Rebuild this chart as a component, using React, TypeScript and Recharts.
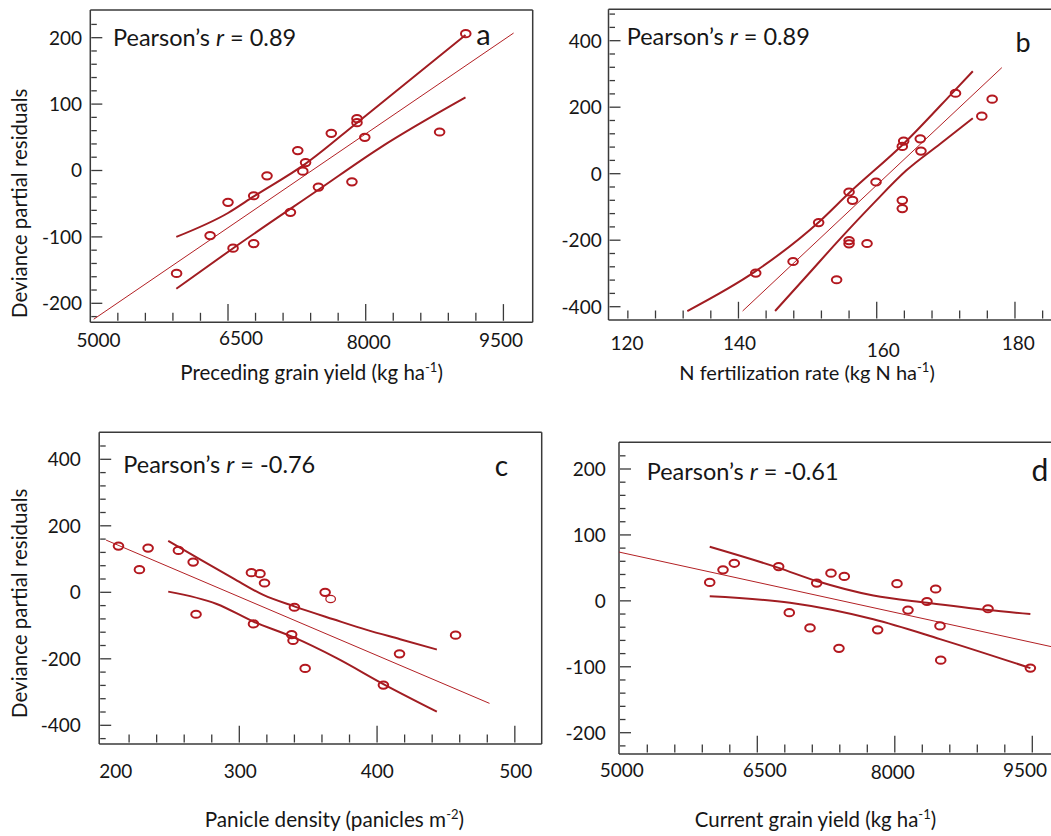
import React from 'react';
import { ComposedChart, Scatter, Line, XAxis, YAxis, ReferenceLine } from 'recharts';

// ---- panel a: preceding grain yield ----
const aPoints = [
  [5940, -155], [6305, -98], [6500, -48], [6555, -117], [6780, -38], [6780, -110],
  [6925, -8], [7180, -63], [7260, 30], [7345, 12], [7315, -1], [7485, -25],
  [7625, 56], [7850, -17], [7905, 78], [7905, 72], [7990, 50], [8805, 58], [9090, 206],
];
const aFit = [[5037, -224], [9611, 207]];
const aUpper = [[5937, -100], [6500, -64], [6781, -39], [7343, 10], [7906, 72], [9087, 204]];
const aLower = [[5937, -178], [6556, -117], [7485, -29], [8142, 33], [9087, 110]];
const aXLabels = [5000, 6500, 8000, 9500];
const aXMajor = [6500, 8000, 9500];
const aXMinor = [5300, 5600, 5900, 6200, 6800, 7100, 7400, 7700, 8300, 8600, 8900, 9200];
const aYMajor = [-200, -100, 0, 100, 200];
const aYMinor = [-220, -180, -160, -140, -120, -80, -60, -40, -20, 20, 40, 60, 80, 120, 140, 160, 180, 220];

// ---- panel b: N fertilization rate ----
const bPoints = [
  [142.5, -299], [147.9, -264], [151.6, -147], [154.2, -319], [156.0, -55], [156.5, -80],
  [156.0, -201], [156.0, -211], [158.6, -210], [159.9, -25], [163.7, 82], [163.9, 98],
  [163.7, -80], [163.7, -105], [166.3, 105], [166.4, 68], [171.4, 242], [175.2, 173], [176.7, 224],
];
const bFit = [[140.6, -413], [178.1, 319]];
const bUpper = [[132.6, -413], [142.5, -293], [151.6, -146], [156.0, -58], [163.9, 90], [171.4, 253], [173.9, 308]];
const bLower = [[145.3, -413], [149.9, -307], [154.7, -196], [159.5, -90], [164.3, 10], [169.2, 90], [173.9, 167]];
const bXLabels = [120, 140, 160, 180];
const bXMajor = [140, 160, 180];
const bXMinor = [124, 128, 132, 136, 144, 148, 152, 156, 164, 168, 172, 176, 184];
const bYMajor = [-400, -200, 0, 200, 400];
const bYMinor = [-360, -320, -280, -240, -160, -120, -80, -40, 40, 80, 120, 160, 240, 280, 320, 360, 440, 480];

// ---- panel c: panicle density ----
const cPoints = [
  [212.3, 139], [227.5, 68], [233.8, 133], [255.8, 126], [266.5, 91], [268.6, -66],
  [308.8, 59], [315, 56], [318.3, 28], [310.3, -95], [340, -45], [338, -127],
  [339, -145], [347.8, -229], [362.3, 0], [404.6, -279], [416.3, -185], [457, -129],
];
const cThinPoints = [[366.3, -20]];
const cFit = [[203.3, 157], [481.6, -334]];
const cUpper = [[248.4, 155], [271.5, 99], [295.6, 42], [317.4, -8], [340.4, -43], [368.3, -81], [392.5, -113], [416.7, -141], [443.4, -172]];
const cLower = [[248.4, 2], [283.6, -35], [310.2, -88], [339.2, -135], [370.7, -198], [404.6, -276], [443.4, -359]];
const cXLabels = [200, 300, 400, 500];
const cXMajor = [300, 400, 500];
const cXMinor = [220, 240, 260, 280, 320, 340, 360, 380, 420, 440, 460, 480];
const cYMajor = [-400, -200, 0, 200, 400];
const cYMinor = [-440, -360, -320, -280, -240, -160, -120, -80, -40, 40, 80, 120, 160, 240, 280, 320, 360, 440];

// ---- panel d: current grain yield ----
const dPoints = [
  [5981, 28], [6126, 47], [6249, 57], [6733, 52], [6849, -18], [7075, -41],
  [7148, 27], [7304, 42], [7391, -72], [7449, 37], [7813, -44], [8024, 26],
  [8144, -14], [8351, -1], [8446, 18], [8493, -38], [8501, -90], [9017, -12], [9479, -102],
];
const dFit = [[4992, 74], [9725, -70]];
const dUpper = [[5981, 82], [6733, 50], [7148, 30], [7766, 8], [8351, -3], [9017, -14], [9479, -20]];
const dLower = [[5981, 7], [6857, -3], [7766, -28], [8493, -58], [9479, -102]];
const dXLabels = [5000, 6500, 8000, 9500];
const dXMajor = [6500, 8000, 9500];
const dXMinor = [5300, 5600, 5900, 6200, 6800, 7100, 7400, 7700, 8300, 8600, 8900, 9200];
const dYMajor = [-200, -100, 0, 100, 200];
const dYMinor = [-220, -180, -160, -140, -120, -80, -60, -40, -20, 20, 40, 60, 80, 120, 140, 160, 180, 220];

const FONT = "Lato, 'Open Sans', sans-serif";
const TEXT = '#161616';
const AXIS = '#3a3a3a';
const DOT = '#b3181f';
const CI = '#a11d22';
const FIT = '#b22024';
const W = 1060;
const H = 836;
const AX = 0.01; // axes get a hair of size so they are still drawn

const toXY = (rows: number[][]) => rows.map(([x, y]) => ({ x, y }));

const ring = (sw: number) => (p: any) => (
  <ellipse cx={p.cx} cy={p.cy} rx={4.8} ry={3.6} fill="none" stroke={DOT} strokeWidth={sw} />
);

// plot frame of each panel in page pixels: L, T, R, B
const panels = [
  {
    id: 'a', frame: [90.3, 10, 532.7, 322.3], xDomain: [5000, 9819], yDomain: [-228.6, 241.7],
    pts: aPoints, thin: [], fit: aFit, upper: aUpper, lower: aLower,
    xLabels: aXLabels, xMajor: aXMajor, xMinor: aXMinor, yMajor: aYMajor, yMinor: aYMinor,
    xShift: [[8.2, 24.4], [13, 22.7], [3.1, 27], [-2.4, 24.4]], yGap: 8.3,
  },
  {
    id: 'b', frame: [608.5, 9.3, 1053, 320], xDomain: [121.2, 185.5], yDomain: [-440, 494.4],
    pts: bPoints, thin: [], fit: bFit, upper: bUpper, lower: bLower,
    xLabels: bXLabels, xMajor: bXMajor, xMinor: bXMinor, yMajor: bYMajor, yMinor: bYMinor,
    xShift: [[26.8, 30], [1, 30], [6.6, 36.7], [3.3, 30]], yGap: 6.8,
  },
  {
    id: 'c', frame: [99.2, 432.3, 541.7, 744], xDomain: [198.3, 519.5], yDomain: [-456.2, 481.2],
    pts: cPoints, thin: cThinPoints, fit: cFit, upper: cUpper, lower: cLower,
    xLabels: cXLabels, xMajor: cXMajor, xMinor: cXMinor, yMajor: cYMajor, yMinor: cYMinor,
    xShift: [[14.3, 34.3], [0.9, 34.3], [0.1, 34.3], [0.9, 34.3]], yGap: 18.3,
  },
  {
    id: 'd', frame: [619, 442.3, 1053, 754], xDomain: [4991.3, 9725.8], yDomain: [-232.3, 240.5],
    pts: dPoints, thin: [], fit: dFit, upper: dUpper, lower: dLower,
    xLabels: dXLabels, xMajor: dXMajor, xMinor: dXMinor, yMajor: dYMajor, yMinor: dYMinor,
    xShift: [[1.9, 22.7], [7.4, 22.7], [-2, 25.3], [-7.3, 23]], yGap: 13.3,
  },
];

const Panel = ({ cfg }: { cfg: any }) => {
  const [L, T, R, B] = cfg.frame;
  const [x0, x1] = cfg.xDomain;
  const [y0, y1] = cfg.yDomain;
  const margin = { left: L - AX, top: T, right: W - R, bottom: H - B - AX };
  // data units per pixel, used to give the inward tick marks their pixel length
  const ux = (x1 - x0) / (R - L);
  const uy = (y1 - y0) / (B - T);

  const xLabel = (p: any) => {
    const v = p.payload.value;
    const i = cfg.xLabels.indexOf(v);
    if (i < 0) return <g />;
    return (
      <text x={Number(p.x) + cfg.xShift[i][0]} y={B + cfg.xShift[i][1]} textAnchor="middle" fontSize={19} fontFamily={FONT} fill={TEXT}>
        {v}
      </text>
    );
  };
  const yLabel = (p: any) => (
    <text x={L - cfg.yGap} y={Number(p.y)} dy="0.36em" textAnchor="end" fontSize={19} fontFamily={FONT} fill={TEXT}>
      {p.payload.value}
    </text>
  );
  const ref = { xAxisId: 'M', yAxisId: 'M', stroke: AXIS, ifOverflow: 'visible' as const };
  const xTick = (v: number, len: number) => (
    <ReferenceLine key={`x${v}`} {...ref} strokeWidth={1.3} segment={[{ x: v, y: y0 + 1.5 * uy }, { x: v, y: y0 + (1.5 + len) * uy }]} />
  );
  const yTick = (v: number, len: number) => (
    <ReferenceLine key={`y${v}`} {...ref} strokeWidth={1.3} segment={[{ x: x0 + 1 * ux, y: v }, { x: x0 + (1 + len) * ux, y: v }]} />
  );

  return (
    <div style={{ position: 'absolute', left: 0, top: 0 }}>
      <ComposedChart width={W} height={H} margin={margin}>
        <XAxis
          xAxisId="M" type="number" dataKey="x" domain={[x0, x1]} allowDataOverflow ticks={cfg.xLabels} interval={0}
          height={AX} axisLine={false} tickLine={false} tickSize={0} tickMargin={0} tick={xLabel}
        />
        <YAxis
          yAxisId="M" type="number" dataKey="y" domain={[y0, y1]} allowDataOverflow ticks={cfg.yMajor} interval={0}
          width={AX} axisLine={false} tickLine={false} tickSize={0} tickMargin={0} tick={yLabel}
        />
        {cfg.xMajor.map((v: number) => xTick(v, 16.7))}
        {cfg.xMinor.map((v: number) => xTick(v, 8))}
        {cfg.yMajor.map((v: number) => yTick(v, 11))}
        {cfg.yMinor.map((v: number) => yTick(v, 5.5))}
        <ReferenceLine {...ref} strokeWidth={1.5} x={x0} />
        <ReferenceLine {...ref} strokeWidth={1.5} x={x1} />
        <ReferenceLine {...ref} strokeWidth={1.5} y={y0} />
        <ReferenceLine {...ref} strokeWidth={1.5} y={y1} />
        <Line xAxisId="M" yAxisId="M" data={toXY(cfg.fit)} dataKey="y" type="linear" stroke={FIT} strokeWidth={1} dot={false} isAnimationActive={false} />
        <Line xAxisId="M" yAxisId="M" data={toXY(cfg.upper)} dataKey="y" type="monotone" stroke={CI} strokeWidth={2} dot={false} isAnimationActive={false} />
        <Line xAxisId="M" yAxisId="M" data={toXY(cfg.lower)} dataKey="y" type="monotone" stroke={CI} strokeWidth={2} dot={false} isAnimationActive={false} />
        <Scatter xAxisId="M" yAxisId="M" data={toXY(cfg.pts)} dataKey="y" shape={ring(2)} isAnimationActive={false} />
        {cfg.thin.length > 0 && (
          <Scatter xAxisId="M" yAxisId="M" data={toXY(cfg.thin)} dataKey="y" shape={ring(1.2)} isAnimationActive={false} />
        )}
      </ComposedChart>
    </div>
  );
};

const Sup = ({ main, sup, tail }: { main: string; sup: string; tail: string }) => (
  <>
    {main}
    <tspan dy={-8} fontSize={13}>{sup}</tspan>
    <tspan dy={8}>{tail}</tspan>
  </>
);

const Pearson = ({ x, y, r }: { x: number; y: number; r: string }) => (
  <text x={x} y={y} fontSize={23.5} fontFamily={FONT} fill={TEXT}>
    Pearson’s <tspan fontStyle="italic">r</tspan> = {r}
  </text>
);

export default function App() {
  return (
    <div style={{ position: 'absolute', left: 0, top: 0, width: 1051, height: 836, overflow: 'hidden', background: '#fff' }}>
      {panels.map((p) => (
        <Panel key={p.id} cfg={p} />
      ))}
      <svg width={1051} height={836} style={{ position: 'absolute', left: 0, top: 0, pointerEvents: 'none' }}>
        <g fontFamily={FONT} fill={TEXT}>
          <text transform="translate(26.9,203.3) rotate(-90)" textAnchor="middle" fontSize={20.5}>Deviance partial residuals</text>
          <text transform="translate(26.9,603.3) rotate(-90)" textAnchor="middle" fontSize={20.5}>Deviance partial residuals</text>
          <text x={311.6} y={380} textAnchor="middle" fontSize={20.5}>
            <Sup main="Preceding grain yield (kg ha" sup="-1" tail=")" />
          </text>
          <text x={807} y={380} textAnchor="middle" fontSize={20}>
            <Sup main="N fertilization rate (kg N ha" sup="-1" tail=")" />
          </text>
          <text x={334.4} y={826.7} textAnchor="middle" fontSize={20.7}>
            <Sup main="Panicle density (panicles m" sup="-2" tail=")" />
          </text>
          <text x={815.5} y={827} textAnchor="middle" fontSize={20.4}>
            <Sup main="Current grain yield (kg ha" sup="-1" tail=")" />
          </text>
          <text x={483.5} y={45} textAnchor="middle" fontSize={29}>a</text>
          <text x={1023} y={51.7} textAnchor="middle" fontSize={27}>b</text>
          <text x={501.4} y={475.7} textAnchor="middle" fontSize={28}>c</text>
          <text x={1040} y={480.7} textAnchor="middle" fontSize={30}>d</text>
        </g>
        <Pearson x={113} y={46} r="0.89" />
        <Pearson x={626.7} y={45} r="0.89" />
        <Pearson x={123.3} y={473.3} r="-0.76" />
        <Pearson x={646.7} y={480} r="-0.61" />
      </svg>
    </div>
  );
}
